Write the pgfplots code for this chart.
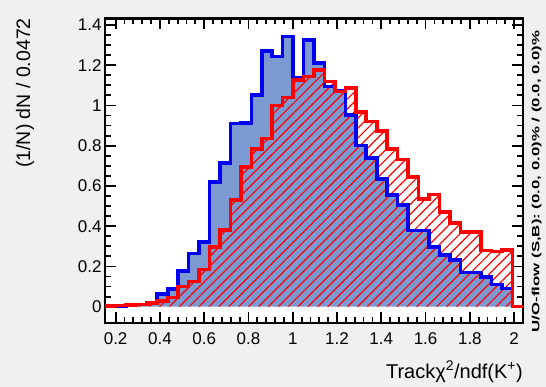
\documentclass[border=0pt]{standalone}
\usepackage{fontspec}
\setmainfont{Liberation Sans}
\usepackage{graphicx}
\usepackage{pgfplots}
\usepackage{pgfplotstable}
\pgfplotsset{compat=1.18}
\usetikzlibrary{patterns.meta}
\definecolor{bgc}{RGB}{240,240,240}
\definecolor{sigfill}{RGB}{125,153,209}
\definecolor{sigline}{RGB}{0,0,238}
\definecolor{bkgline}{RGB}{255,0,0}

% bin left edges (last row = right edge of last bin), signal, background
\pgfplotstableread{
x      s      b
0.1520 0.000  0.000
0.1520 0.002  0.002
0.1992 0.003  0.005
0.2464 0.008  0.008
0.2936 0.010  0.010
0.3408 0.020  0.017
0.3880 0.063  0.027
0.4352 0.088  0.046
0.4824 0.178  0.100
0.5296 0.265  0.125
0.5768 0.322  0.185
0.6240 0.620  0.298
0.6712 0.715  0.381
0.7184 0.910  0.530
0.7656 0.912  0.693
0.8128 1.053  0.785
0.8600 1.270  0.835
0.9072 1.243  0.999
0.9544 1.342  1.040
1.0016 1.135  1.127
1.0488 1.325  1.143
1.0960 1.210  1.176
1.1432 1.095  1.118
1.1904 1.072  1.069
1.2376 0.953  1.088
1.2848 0.800  0.967
1.3320 0.738  0.920
1.3792 0.635  0.872
1.4264 0.555  0.783
1.4736 0.505  0.731
1.5208 0.378  0.643
1.5680 0.378  0.536
1.6152 0.298  0.557
1.6624 0.257  0.470
1.7096 0.232  0.415
1.7568 0.169  0.370
1.8040 0.169  0.370
1.8512 0.149  0.279
1.8984 0.111  0.275
1.9456 0.091  0.282
1.9928 0.000  0.000
2.0400 0.000  0.000
}\hist

\begin{document}
\begin{tikzpicture}
\fill[bgc] (0,0) rectangle (546pt,387pt);
\path[use as bounding box] (0,0) rectangle (546pt,387pt);
\begin{axis}[
  at={(105pt,64pt)}, anchor=south west,
  scale only axis, width=418pt, height=304.5pt,
  xmin=0.152, xmax=2.04, ymin=-0.081, ymax=1.432,
  axis background/.style={fill=white},
  axis line style={line width=2.2pt, black},
  xtick={0.2,0.4,0.6,0.8,1,1.2,1.4,1.6,1.8,2},
  ytick={0,0.2,0.4,0.6,0.8,1,1.2,1.4},
  minor x tick num=4, minor y tick num=3,
  tick align=inside, xtick pos=both, ytick pos=both,
  major tick length=11pt, minor tick length=6pt,
  every tick/.style={black, line width=1.8pt},
  tick label style={font=\fontsize{17}{20}\selectfont},
  xticklabel style={yshift=-6pt},
  /pgf/number format/assume math mode=true,
  no markers,
]
\addplot[const plot mark left, fill=sigfill, draw=none] table[x=x,y=s]{\hist};
\addplot[const plot mark left, draw=none, pattern={Lines[angle=45,distance=7pt,line width=1.2pt]}, pattern color=bkgline] table[x=x,y=b]{\hist};
\addplot[const plot mark left, draw=sigline, line width=3.6pt] table[x=x,y=s]{\hist};
\addplot[const plot mark left, draw=bkgline, line width=3.6pt] table[x=x,y=b]{\hist};
\end{axis}
\node[rotate=90, anchor=east, inner sep=0pt, font=\fontsize{19.5}{22}\selectfont] at (25pt,369pt) {(1/N) dN / 0.0472};
\node[anchor=east, inner sep=0pt, font=\fontsize{20}{22}\selectfont] at (523pt,15.5pt) {Trackχ\textsuperscript{2}/ndf(K\textsuperscript{+})};
\node[rotate=90, inner sep=0pt] at (536.7pt,205.5pt) {\scalebox{1.6}[1]{\fontsize{10.5}{12}\selectfont\bfseries U/O-flow (S,B): (0.0, 0.0)\% / (0.0, 0.0)\%}};
\end{tikzpicture}
\end{document}
